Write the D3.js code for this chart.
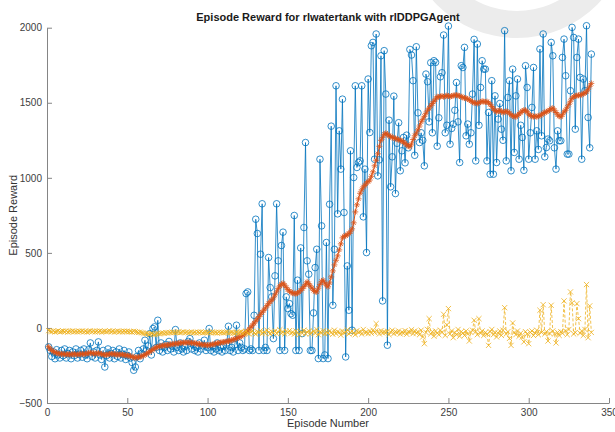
<!DOCTYPE html>
<html>
<head>
<meta charset="utf-8">
<script src="https://cdn.jsdelivr.net/npm/d3@7/dist/d3.min.js"></script>
<style>
  body { margin: 0; background: #fff; }
  svg { display: block; font-family: "Liberation Sans", Arial, sans-serif; }
</style>
</head>
<body>
<div id="chart"></div>
<script>
var chartTitle = "Episode Reward for rlwatertank with rlDDPGAgent";
var xLabel = "Episode Number";
var yLabel = "Episode Reward";
var xTicks = [0, 50, 100, 150, 200, 250, 300, 350];
var yTicks = [-500, 0, 500, 1000, 1500, 2000];

// episode reward (blue circles), episodes 1..339
var episodeReward = [
  -126,-150,-190,-160,-205,-145,-180,-200,-150,-185,
  -140,-200,-170,-150,-205,-160,-185,-140,-200,-175,
  -150,-195,-140,-180,-205,-145,-100,-190,-160,-200,
  -150,-93,-180,-210,-150,-260,-185,-140,-200,-170,
  -150,-205,-160,-190,-140,-200,-175,-150,-210,-185,
  -160,-200,-230,-282,-260,-190,-150,-205,-170,-140,
  -82,-150,-120,-38,-180,-4,7,-130,51,-150,
  -100,-160,-130,-110,-150,-90,-140,-120,-160,-11,
  -130,-150,-100,-140,-160,-120,-150,-90,-71,-140,
  -110,-150,-130,-160,-100,-140,-120,-82,-150,-130,
  -4,-150,-120,-160,-140,-100,-150,-130,-160,-120,
  -150,-100,11,-150,-130,-160,-110,18,-150,-100,
  -130,-150,-140,229,240,-150,-140,-150,84,724,
  629,-150,491,827,-150,-130,-150,469,269,207,
  -71,347,827,447,-150,549,638,-150,207,129,
  162,95,85,749,-150,318,-150,533,-37,669,
  1235,447,358,-150,-150,100,402,524,-204,1124,
  680,-204,-180,569,-204,824,1344,151,524,1613,
  760,1313,1058,1524,769,-193,413,118,1180,-15,
  1002,1613,1069,1102,1113,1613,740,1058,502,1658,
  1302,1880,1902,1124,1958,1013,1120,1813,180,1847,
  1558,-115,1384,940,1140,1544,895,1230,1367,1047,
  1180,1269,1100,1284,1200,1855,1818,1647,1150,1873,
  1433,1235,1300,1250,1080,1691,1640,1373,1767,1300,
  1780,1769,1211,1400,1673,1700,1951,1300,1350,2011,
  1224,1329,1358,1450,1635,1373,1102,1747,1735,1869,
  1280,1358,1224,1300,1558,1922,1113,1891,1350,1602,
  1780,1724,1724,1113,1435,1024,1647,1024,1546,1102,
  1391,1495,1324,1250,1980,1113,1535,1647,1047,1724,
  1169,1546,1658,1124,1350,1269,1050,1747,1602,1124,
  1300,1469,1735,1124,1313,1189,1858,1280,1958,1140,
  1202,1258,1247,1902,1813,1200,1058,1313,1247,1247,
  1802,1924,1680,1158,1158,1580,2002,1935,1324,1802,
  1924,1669,1124,1658,1580,2013,1402,1200,1824
];

// average reward (orange asterisks)
var averageReward = [
  -125,-140,-150,-158,-163,-167,-170,-172,-173,-174,
  -175,-176,-175,-176,-177,-175,-174,-176,-177,-175,
  -174,-173,-175,-172,-170,-168,-165,-167,-170,-172,
  -170,-168,-170,-174,-178,-180,-178,-176,-174,-172,
  -173,-175,-176,-178,-177,-176,-178,-180,-182,-183,
  -185,-188,-192,-196,-198,-197,-195,-192,-188,-184,
  -178,-172,-165,-158,-150,-143,-136,-130,-126,-122,
  -120,-118,-116,-115,-114,-112,-110,-108,-106,-105,
  -104,-102,-100,-99,-98,-98,-97,-97,-98,-99,
  -100,-102,-104,-106,-108,-110,-112,-113,-114,-115,
  -114,-112,-110,-108,-105,-102,-100,-98,-96,-94,
  -92,-90,-88,-85,-82,-78,-74,-70,-66,-60,
  -55,-48,-40,-30,-20,-8,5,18,32,45,
  60,75,90,105,118,132,148,162,175,185,
  200,220,240,262,280,290,298,285,270,255,
  245,238,232,230,228,232,240,250,262,275,
  290,307,295,280,265,250,242,240,265,290,
  310,318,300,285,274,300,340,380,420,451,
  480,520,560,600,610,615,620,630,640,660,
  700,773,820,860,897,920,940,950,965,975,
  985,1010,1040,1080,1117,1160,1210,1250,1270,1290,
  1297,1290,1280,1275,1270,1265,1262,1258,1254,1250,
  1245,1238,1230,1220,1212,1207,1225,1255,1280,1297,
  1320,1345,1373,1390,1410,1430,1450,1464,1480,1495,
  1510,1525,1540,1538,1542,1545,1540,1543,1548,1545,
  1540,1545,1548,1550,1551,1548,1545,1540,1535,1532,
  1530,1525,1520,1512,1505,1500,1498,1495,1500,1505,
  1510,1508,1505,1508,1500,1490,1475,1460,1448,1440,
  1445,1450,1440,1435,1440,1442,1440,1430,1420,1412,
  1408,1407,1415,1425,1435,1445,1450,1451,1440,1425,
  1415,1410,1408,1410,1407,1410,1415,1420,1430,1435,
  1440,1445,1452,1460,1464,1450,1435,1420,1410,1407,
  1420,1440,1450,1470,1490,1510,1530,1540,1545,1548,
  1550,1550,1555,1560,1565,1573,1590,1610,1629
];

// episode Q0 (yellow, dashed)
var episodeQ0 = [
  -18,-22,-25,-20,-27,-23,-19,-26,-24,-21,
  -25,-20,-28,-22,-24,-19,-26,-23,-27,-21,
  -24,-20,-26,-22,-28,-23,-19,-25,-21,-27,
  -22,-25,-20,-27,-24,-21,-26,-23,-19,-25,
  -22,-28,-24,-20,-26,-23,-27,-21,-25,-22,
  -26,-24,-28,-22,-25,-27,-30,-28,-32,-35,
  -38,-36,-40,-42,-38,-41,-44,-40,-37,-39,
  -35,-33,-36,-31,-34,-30,-32,-28,-31,-29,
  -30,-27,-32,-29,-26,-31,-28,-33,-30,-27,
  -32,-29,-34,-28,-31,-26,-33,-30,-28,-32,
  -29,-34,-27,-31,-30,-35,-28,-32,-29,-33,
  -30,-27,-34,-31,-28,-33,-36,-30,-32,-29,
  -25,-38,-30,-22,-35,-40,-28,-20,-33,-42,
  -25,-30,-18,-38,-27,-35,-15,-30,-40,-24,
  -32,-20,-37,-28,-12,-35,-25,-40,-22,-30,
  -18,-36,-27,-42,-20,-30,-45,-25,-35,-15,
  -38,-28,-20,-40,-30,-22,-35,-10,-45,-28,
  -32,-18,-40,-25,-35,-20,-30,-42,-15,-38,
  -25,-30,-48,-20,-35,-28,-12,-40,-30,-22,
  -35,-45,-18,-30,-25,-40,-10,-32,-28,-38,
  -20,-35,-15,-30,29,-25,-40,-18,-33,-27,
  -30,-22,-45,-28,-15,-38,-25,-32,-20,-40,
  -28,-35,-18,-42,-25,-30,-12,-38,-20,-35,
  -25,-45,-15,-60,-105,-30,-10,62,-40,-25,
  -55,-20,-35,-45,-15,-30,91,-50,20,129,
  -40,-20,-65,-30,-45,-10,-55,-25,-35,-50,
  -20,-40,-87,-30,-15,51,-25,-45,62,-35,
  -20,-50,-30,-40,-116,-25,-10,-45,-30,-60,
  -35,-20,-50,-15,135,-40,-25,-70,-116,33,
  -30,-45,-20,-55,-35,-60,-93,-25,-40,-105,
  -30,-20,-50,-35,-15,-45,118,-30,155,-40,
  -25,-87,-35,151,-20,-40,-100,-30,-50,-25,
  -35,180,-20,-45,-10,240,167,-40,-30,162,
  62,-35,-20,-50,-10,289,-65,147,-30
];

var width = 615, height = 432;
var margin = { top: 27.7, right: 6, bottom: 29, left: 47 };

var svg = d3.select("#chart").append("svg")
  .attr("width", width)
  .attr("height", height);

// light grey ring in the top right corner of the screenshot
svg.append("path")
  .attr("d", d3.arc().innerRadius(86).outerRadius(113).startAngle(0).endAngle(2 * Math.PI)())
  .attr("transform", "translate(517,-75)")
  .attr("fill", "#ececec");

var x = d3.scaleLinear().domain([0, 350]).range([margin.left, width - margin.right]);
var y = d3.scaleLinear().domain([-500, 2000]).range([height - margin.bottom, margin.top]);

var episodes = episodeReward.map(function(d, i) { return i + 1; });

// axes
var gx = svg.append("g")
  .attr("transform", "translate(0," + (height - margin.bottom) + ")")
  .call(d3.axisBottom(x).tickValues(xTicks).tickFormat(d3.format("d"))
    .tickSizeInner(-5).tickSizeOuter(0).tickPadding(6));
var gy = svg.append("g")
  .attr("transform", "translate(" + margin.left + ",0)")
  .call(d3.axisLeft(y).tickValues(yTicks).tickFormat(d3.format("d"))
    .tickSizeInner(-5).tickSizeOuter(0).tickPadding(5));

[gx, gy].forEach(function(g) {
  g.select(".domain").attr("stroke", "#858585");
  g.selectAll(".tick line").attr("stroke", "#858585");
  g.selectAll(".tick text").attr("fill", "#404040").style("font-size", "10px")
    .style("font-family", "'Liberation Sans', Arial, sans-serif");
});

function asterisk(s) {
  var a = s * 0.7;
  return "M" + (-s) + ",0H" + s + "M0," + (-s) + "V" + s +
    "M" + (-a) + "," + (-a) + "L" + a + "," + a +
    "M" + (-a) + "," + a + "L" + a + "," + (-a);
}
function cross(s) {
  return "M" + (-s) + "," + (-s) + "L" + s + "," + s + "M" + (-s) + "," + s + "L" + s + "," + (-s);
}

var line = function(values) {
  return d3.line()
    .x(function(d, i) { return x(episodes[i]); })
    .y(function(d) { return y(d); })(values);
};

var blue = "#0072BD", orange = "#D95319", yellow = "#EDB120";

// episode reward
svg.append("path")
  .attr("d", line(episodeReward))
  .attr("fill", "none")
  .attr("stroke", blue)
  .attr("stroke-width", 0.8);
svg.append("g").selectAll("circle")
  .data(episodeReward)
  .enter().append("circle")
  .attr("cx", function(d, i) { return x(episodes[i]); })
  .attr("cy", function(d) { return y(d); })
  .attr("r", 3.3)
  .attr("fill", "none")
  .attr("stroke", blue)
  .attr("stroke-width", 0.8);

// average reward
svg.append("path")
  .attr("d", line(averageReward))
  .attr("fill", "none")
  .attr("stroke", orange)
  .attr("stroke-width", 1);
svg.append("g").selectAll("path")
  .data(averageReward)
  .enter().append("path")
  .attr("transform", function(d, i) { return "translate(" + x(episodes[i]) + "," + y(d) + ")"; })
  .attr("d", asterisk(3))
  .attr("fill", "none")
  .attr("stroke", orange)
  .attr("stroke-width", 0.8);

// episode Q0
svg.append("path")
  .attr("d", line(episodeQ0))
  .attr("fill", "none")
  .attr("stroke", yellow)
  .attr("stroke-width", 0.8)
  .attr("stroke-dasharray", "3,2");
svg.append("g").selectAll("path")
  .data(episodeQ0)
  .enter().append("path")
  .attr("transform", function(d, i) { return "translate(" + x(episodes[i]) + "," + y(d) + ")"; })
  .attr("d", cross(2.6))
  .attr("fill", "none")
  .attr("stroke", yellow)
  .attr("stroke-width", 0.8);

// labels
svg.append("text")
  .attr("x", (margin.left + width - margin.right) / 2)
  .attr("y", 21)
  .attr("text-anchor", "middle")
  .style("font-size", "11px")
  .style("font-weight", "bold")
  .attr("fill", "#1a1a1a")
  .text(chartTitle);

svg.append("text")
  .attr("x", (margin.left + width - margin.right) / 2)
  .attr("y", 427)
  .attr("text-anchor", "middle")
  .style("font-size", "11px")
  .attr("fill", "#333")
  .text(xLabel);

svg.append("text")
  .attr("transform", "translate(17," + ((margin.top + height - margin.bottom) / 2) + ") rotate(-90)")
  .attr("text-anchor", "middle")
  .style("font-size", "11px")
  .attr("fill", "#333")
  .text(yLabel);
</script>
</body>
</html>
